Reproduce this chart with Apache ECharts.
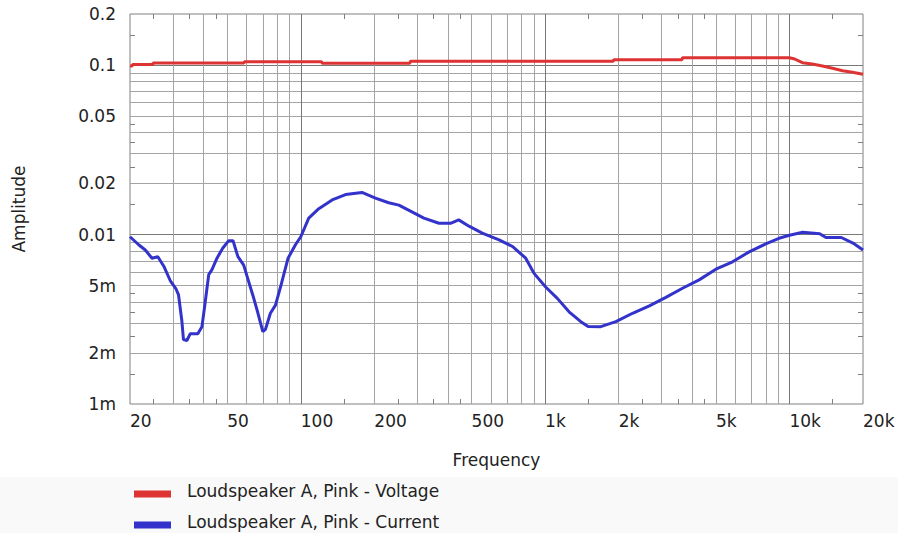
<!DOCTYPE html>
<html><head><meta charset="utf-8">
<script src="https://cdn.jsdelivr.net/npm/echarts@6/dist/echarts.min.js"></script>
<style>html,body{margin:0;padding:0;background:#fff}#c{width:898px;height:533px}</style>
</head><body><div id="c"></div><script>
// ---- data ----
const freqLabels = [20, 50, 100, 200, 500, 1000, 2000, 5000, 10000, 20000];
const freqMinorTicks = [25, 35, 45, 150, 250, 350, 450, 1500, 2500, 3500, 4500, 15000];
const freqGridMinor = [30, 40, 50, 60, 70, 80, 90, 200, 300, 400, 500, 600, 700, 800, 900,
  2000, 3000, 4000, 5000, 6000, 7000, 8000, 9000];
const freqGridMajor = [100, 1000, 10000];
const ampLabels = [0.001, 0.002, 0.005, 0.01, 0.02, 0.05, 0.1, 0.2];
const ampMinorTicks = [0.0015, 0.0025, 0.0035, 0.0045, 0.015, 0.025, 0.035, 0.045, 0.15];
const ampGridMinor = [0.002, 0.003, 0.004, 0.005, 0.006, 0.007, 0.008, 0.009,
  0.02, 0.03, 0.04, 0.05, 0.06, 0.07, 0.08, 0.09];
const ampGridMajor = [0.01, 0.1];

const seriesNames = ['Loudspeaker A, Pink - Voltage', 'Loudspeaker A, Pink - Current'];

const voltageFreq = [20, 20.4, 20.5, 24.8, 24.9, 58.5, 58.7, 121.5, 122.5, 279, 281, 1900, 1910,
  3630, 3650, 10000, 10500, 11300, 12400, 13650, 15000, 16500, 18100, 20000];
const voltageAmp = [0.0987, 0.0987, 0.1007, 0.1007, 0.1028, 0.1028, 0.1044, 0.1044, 0.1023, 0.1023,
  0.1051, 0.1051, 0.1074, 0.1074, 0.1104, 0.1104, 0.1085, 0.1032, 0.1014, 0.0986, 0.0956, 0.0926,
  0.0906, 0.0882];

const currentFreq = [20, 21.7, 23.1, 24.6, 26.0, 27.5, 29.3, 30.8, 31.6, 32.6, 33.1, 34.2, 35.3,
  37.9, 39.4, 40.4, 42.0, 43.3, 45.4, 47.9, 50.7, 52.8, 55.3, 58.4, 60.9, 63.6, 66.8, 69.9, 71.7,
  75.1, 78.8, 82.6, 88.7, 95.1, 100, 107.8, 118.5, 134.4, 152.5, 178, 202, 229, 252, 285, 319,
  368, 410, 443, 488, 553, 648, 735, 833, 901, 1005, 1122, 1253, 1400, 1500, 1690, 1948, 2280,
  2670, 3120, 3650, 4270, 5000, 5850, 6840, 8000, 9060, 10000, 11340, 13300, 14100, 16300,
  18200, 20000];
const currentAmp = [0.0097, 0.0087, 0.0081, 0.00725, 0.0074, 0.0065, 0.0053, 0.0048, 0.0044,
  0.0031, 0.0024, 0.00237, 0.0026, 0.0026, 0.00286, 0.00375, 0.0058, 0.0062, 0.00725, 0.0083,
  0.0092, 0.0092, 0.0074, 0.0066, 0.0054, 0.0044, 0.00343, 0.00267, 0.00276, 0.00343, 0.00383,
  0.0049, 0.00725, 0.0087, 0.0097, 0.0125, 0.0142, 0.0160, 0.0172, 0.0177, 0.0164, 0.0154,
  0.0149, 0.0136, 0.0125, 0.01165, 0.01165, 0.0122, 0.0112, 0.0102, 0.0093, 0.0085, 0.00725,
  0.0059, 0.0049, 0.0042, 0.0035, 0.00306, 0.00287, 0.00286, 0.00306, 0.00343, 0.00379,
  0.00426, 0.00482, 0.0054, 0.00624, 0.0069, 0.0079, 0.0088, 0.0095, 0.0099, 0.0103, 0.0101,
  0.0096, 0.0096, 0.0089, 0.0081];

// ---- chart ----
const FONT = 'DejaVu Sans';
const TXT = '#222';
const FRAME = '#808080';
const GRID_MINOR = '#a4a4a4';
const GRID_MAJOR = '#787878';

function fmtFreq(v) {
  v = Number(v.toPrecision(4));
  return v >= 1000 ? (v / 1000) + 'k' : String(v);
}
function fmtAmp(v) {
  v = Number(v.toPrecision(4));
  return v < 0.01 ? Number((v * 1000).toPrecision(4)) + 'm' : String(v);
}

function baseAxis(min, max, extra) {
  return Object.assign({
    type: 'log', logBase: 10, min: min, max: max, gridIndex: 0,
    axisLine: { show: false },
    axisTick: { show: false },
    axisLabel: { show: false },
    splitLine: { show: false },
    minorTick: { show: false },
    minorSplitLine: { show: false }
  }, extra);
}

const xMin = 20, xMax = 20000, yMin = 0.001, yMax = 0.2;

const xAxes = [
  baseAxis(xMin, xMax, {
    position: 'bottom',
    name: 'Frequency', nameLocation: 'middle', nameGap: 47,
    nameTextStyle: { fontFamily: FONT, fontSize: 17, color: TXT },
    axisTick: { show: true, inside: true, length: 5, customValues: freqMinorTicks,
      lineStyle: { color: FRAME, width: 1 } },
    axisLabel: { show: true, customValues: freqLabels, formatter: fmtFreq, align: 'left',
      margin: 8, fontFamily: FONT, fontSize: 17, color: TXT }
  }),
  baseAxis(xMin, xMax, {
    position: 'top',
    axisTick: { show: true, inside: true, length: 5, customValues: freqMinorTicks,
      lineStyle: { color: FRAME, width: 1 } }
  }),
  baseAxis(xMin, xMax, {
    position: 'bottom',
    axisTick: { show: false, customValues: freqGridMinor },
    splitLine: { show: true, lineStyle: { color: GRID_MINOR, width: 1 } }
  }),
  baseAxis(xMin, xMax, {
    position: 'bottom',
    axisTick: { show: false, customValues: freqGridMajor },
    splitLine: { show: true, lineStyle: { color: GRID_MAJOR, width: 1 } }
  })
];

const yAxes = [
  baseAxis(yMin, yMax, {
    position: 'left',
    name: 'Amplitude', nameLocation: 'middle', nameGap: 103,
    nameTextStyle: { fontFamily: FONT, fontSize: 17, color: TXT },
    axisTick: { show: true, inside: true, length: 5, customValues: ampMinorTicks,
      lineStyle: { color: FRAME, width: 1 } },
    axisLabel: { show: true, customValues: ampLabels, formatter: fmtAmp,
      margin: 14, fontFamily: FONT, fontSize: 17, color: TXT }
  }),
  baseAxis(yMin, yMax, {
    position: 'right',
    axisTick: { show: true, inside: true, length: 5, customValues: ampMinorTicks,
      lineStyle: { color: FRAME, width: 1 } }
  }),
  baseAxis(yMin, yMax, {
    position: 'left',
    axisTick: { show: false, customValues: ampGridMinor },
    splitLine: { show: true, lineStyle: { color: GRID_MINOR, width: 1 } }
  }),
  baseAxis(yMin, yMax, {
    position: 'left',
    axisTick: { show: false, customValues: ampGridMajor },
    splitLine: { show: true, lineStyle: { color: GRID_MAJOR, width: 1 } }
  })
];

function pairs(xs, ys) { return xs.map((x, i) => [x, ys[i]]); }

const chart = echarts.init(document.getElementById('c'), null, { renderer: 'svg' });
chart.setOption({
  animation: false,
  backgroundColor: '#ffffff',
  textStyle: { fontFamily: FONT },
  graphic: [{
    type: 'rect', left: 0, top: 477, z: -10, silent: true,
    shape: { width: 898, height: 56 },
    style: { fill: '#f9f9f9' }
  }],
  grid: { left: 130, top: 14, width: 733, height: 390, show: true,
    borderColor: FRAME, borderWidth: 1, backgroundColor: 'transparent' },
  xAxis: xAxes,
  yAxis: yAxes,
  legend: {
    orient: 'vertical', left: 134, top: 481, height: 60, padding: 0,
    itemWidth: 37, itemHeight: 13, itemGap: 11,
    icon: 'path://M0,0 M0,6 L37,6 L37,13 L0,13 Z',
    textStyle: { fontFamily: FONT, fontSize: 17, color: TXT, lineHeight: 20, padding: [0, 0, 0, 11] },
    data: seriesNames
  },
  series: [
    { name: seriesNames[0], type: 'line', xAxisIndex: 0, yAxisIndex: 0,
      data: pairs(voltageFreq, voltageAmp), showSymbol: false, symbol: 'none',
      lineStyle: { color: '#dd3333', width: 3 }, itemStyle: { color: '#dd3333' }, z: 5 },
    { name: seriesNames[1], type: 'line', xAxisIndex: 0, yAxisIndex: 0,
      data: pairs(currentFreq, currentAmp), showSymbol: false, symbol: 'none',
      lineStyle: { color: '#3333cc', width: 3 }, itemStyle: { color: '#3333cc' }, z: 5 }
  ]
});
</script></body></html>
